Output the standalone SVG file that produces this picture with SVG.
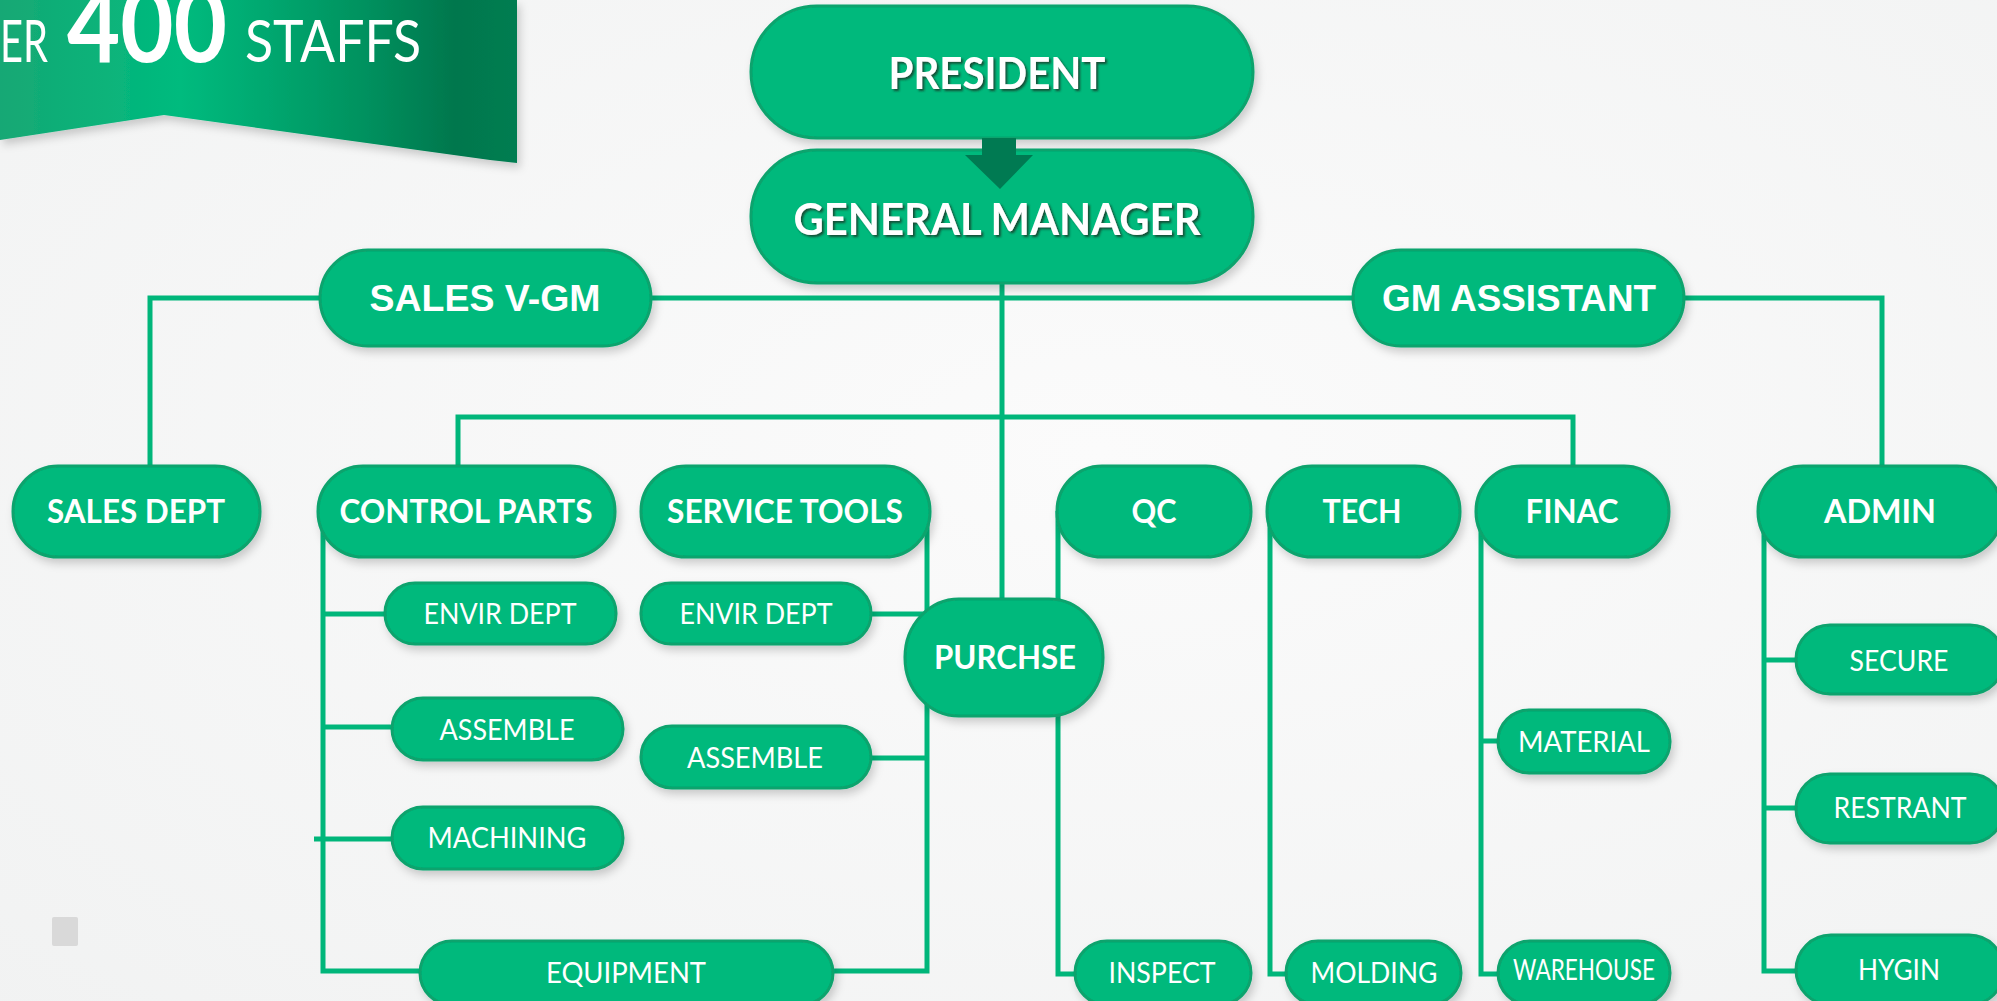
<svg xmlns="http://www.w3.org/2000/svg" width="1997" height="1001" viewBox="0 0 1997 1001">
<defs>
<radialGradient id="bg" cx="0.55" cy="0.45" r="0.8">
<stop offset="0" stop-color="#fbfbfb"/>
<stop offset="1" stop-color="#f1f2f2"/>
</radialGradient>
<linearGradient id="rib" x1="0" y1="0" x2="1" y2="0">
<stop offset="0" stop-color="#16a874"/>
<stop offset="0.35" stop-color="#00bb7e"/>
<stop offset="0.7" stop-color="#00925f"/>
<stop offset="0.88" stop-color="#00774d"/>
<stop offset="1" stop-color="#007d51"/>
</linearGradient>
<filter id="sh" x="-20%" y="-30%" width="140%" height="170%">
<feDropShadow dx="3" dy="5" stdDeviation="4" flood-color="#000" flood-opacity="0.18"/>
</filter>
<filter id="tsh" x="-10%" y="-30%" width="120%" height="160%">
<feDropShadow dx="2" dy="2" stdDeviation="1" flood-color="#143d2a" flood-opacity="0.85"/>
</filter>
<style>
.pill{fill:#00b97c;stroke:#0aa36d;stroke-width:3;filter:url(#sh)}
.conn{stroke:#00b67a;stroke-width:5;fill:none}
.bt{font-family:Lato,"Liberation Sans",sans-serif;fill:#fff}
.t1{font-family:Lato,"Liberation Sans",sans-serif;font-weight:700;font-size:44px;fill:#fff;text-anchor:middle;filter:url(#tsh)}
.t2{font-family:"Liberation Sans Narrow","Liberation Sans",sans-serif;font-weight:700;font-size:36px;fill:#fff;text-anchor:middle}
.t3{font-family:Lato,"Liberation Sans",sans-serif;font-weight:700;font-size:32px;fill:#fff;text-anchor:middle}
.t4{font-family:Lato,"Liberation Sans",sans-serif;font-weight:400;font-size:28px;fill:#fff;text-anchor:middle}
</style>
</defs>
<rect x="0" y="0" width="1997" height="1001" fill="url(#bg)"/>
<rect x="52" y="917" width="26" height="29" rx="2" fill="#d9d9d9"/>

<g id="banner">
<polygon points="0,0 517,0 517,163 490,160 164,115 0,140" fill="url(#rib)" filter="url(#sh)"/>
<text class="bt" x="0" y="62" font-size="58" textLength="48" lengthAdjust="spacingAndGlyphs">ER</text>
<text class="bt" x="67" y="62" font-weight="700" font-size="104" textLength="160" lengthAdjust="spacingAndGlyphs">400</text>
<text class="bt" x="245" y="62" font-size="58" textLength="176" lengthAdjust="spacingAndGlyphs">STAFFS</text>
</g>

<g id="connectors">
<path class="conn" d="M1002 283V599"/>
<path class="conn" d="M150 466V298H1882V466"/>
<path class="conn" d="M458 466V417H1573V466"/>
<path class="conn" d="M323 511V971H420M323 614H385M323 727H392M314 839H392"/>
<path class="conn" d="M927 511V971H833M871 614H927M871 758H927"/>
<path class="conn" d="M1058 511V974H1075"/>
<path class="conn" d="M1270 511V974H1286"/>
<path class="conn" d="M1481 511V974H1498M1481 741H1498"/>
<path class="conn" d="M1764 511V971H1796M1764 660H1796M1764 808H1796"/>
</g>

<g id="president"><rect class="pill" x="751" y="6" width="502" height="132" rx="66"/><text class="t1" x="997" y="89" textLength="217" lengthAdjust="spacingAndGlyphs">PRESIDENT</text></g>
<g id="general-manager"><rect class="pill" x="751" y="150" width="502" height="133" rx="66"/><text class="t1" x="997" y="235" textLength="407" lengthAdjust="spacingAndGlyphs">GENERAL MANAGER</text></g>

<g id="connectors-arrow">
<path d="M982 138H1016V155H1033L1000 189L965 155H982Z" fill="#007a52"/>
</g>

<g id="sales-vgm"><rect class="pill" x="320" y="250" width="331" height="96" rx="48"/><text class="t2" x="485" y="311" textLength="231" lengthAdjust="spacingAndGlyphs">SALES V-GM</text></g>
<g id="gm-assistant"><rect class="pill" x="1353" y="250" width="331" height="96" rx="48"/><text class="t2" x="1519" y="311" textLength="274" lengthAdjust="spacingAndGlyphs">GM ASSISTANT</text></g>

<g id="sales-dept"><rect class="pill" x="13" y="466" width="247" height="91" rx="45"/><text class="t3" x="136" y="523" textLength="178" lengthAdjust="spacingAndGlyphs">SALES DEPT</text></g>
<g id="control-parts"><rect class="pill" x="318" y="466" width="297" height="91" rx="45"/><text class="t3" x="466" y="523" textLength="253" lengthAdjust="spacingAndGlyphs">CONTROL PARTS</text></g>
<g id="service-tools"><rect class="pill" x="641" y="466" width="289" height="91" rx="45"/><text class="t3" x="785" y="523" textLength="236" lengthAdjust="spacingAndGlyphs">SERVICE TOOLS</text></g>
<g id="qc"><rect class="pill" x="1057" y="466" width="194" height="91" rx="45"/><text class="t3" x="1154" y="523" textLength="45" lengthAdjust="spacingAndGlyphs">QC</text></g>
<g id="tech"><rect class="pill" x="1267" y="466" width="193" height="91" rx="45"/><text class="t3" x="1362" y="523" textLength="79" lengthAdjust="spacingAndGlyphs">TECH</text></g>
<g id="finac"><rect class="pill" x="1476" y="466" width="193" height="91" rx="45"/><text class="t3" x="1572" y="523" textLength="93" lengthAdjust="spacingAndGlyphs">FINAC</text></g>
<g id="admin"><rect class="pill" x="1758" y="466" width="244" height="91" rx="45"/><text class="t3" x="1880" y="523" textLength="112" lengthAdjust="spacingAndGlyphs">ADMIN</text></g>

<g id="purchse"><rect class="pill" x="905" y="599" width="198" height="117" rx="54" ry="58"/><text class="t3" x="1005" y="669" textLength="142" lengthAdjust="spacingAndGlyphs">PURCHSE</text></g>

<g id="envir-dept-1"><rect class="pill" x="385" y="583" width="231" height="61" rx="30"/><text class="t4" x="500" y="624" textLength="153" lengthAdjust="spacingAndGlyphs">ENVIR DEPT</text></g>
<g id="assemble-1"><rect class="pill" x="392" y="698" width="231" height="62" rx="31"/><text class="t4" x="507" y="740" textLength="135" lengthAdjust="spacingAndGlyphs">ASSEMBLE</text></g>
<g id="machining"><rect class="pill" x="392" y="807" width="231" height="62" rx="31"/><text class="t4" x="507" y="848" textLength="159" lengthAdjust="spacingAndGlyphs">MACHINING</text></g>
<g id="equipment"><rect class="pill" x="420" y="941" width="413" height="64" rx="32"/><text class="t4" x="626" y="983" textLength="160" lengthAdjust="spacingAndGlyphs">EQUIPMENT</text></g>
<g id="envir-dept-2"><rect class="pill" x="641" y="583" width="230" height="61" rx="30"/><text class="t4" x="756" y="624" textLength="153" lengthAdjust="spacingAndGlyphs">ENVIR DEPT</text></g>
<g id="assemble-2"><rect class="pill" x="641" y="726" width="230" height="62" rx="31"/><text class="t4" x="755" y="768" textLength="136" lengthAdjust="spacingAndGlyphs">ASSEMBLE</text></g>

<g id="inspect"><rect class="pill" x="1075" y="941" width="176" height="64" rx="32"/><text class="t4" x="1162" y="983" textLength="107" lengthAdjust="spacingAndGlyphs">INSPECT</text></g>
<g id="molding"><rect class="pill" x="1286" y="941" width="175" height="64" rx="32"/><text class="t4" x="1374" y="983" textLength="127" lengthAdjust="spacingAndGlyphs">MOLDING</text></g>
<g id="material"><rect class="pill" x="1498" y="710" width="172" height="63" rx="31"/><text class="t4" x="1584" y="752" textLength="132" lengthAdjust="spacingAndGlyphs">MATERIAL</text></g>
<g id="warehouse"><rect class="pill" x="1498" y="941" width="172" height="64" rx="32"/><text class="t4" x="1584" y="980" font-size="23" textLength="142" lengthAdjust="spacingAndGlyphs">WAREHOUSE</text></g>

<g id="secure"><rect class="pill" x="1796" y="625" width="208" height="69" rx="34"/><text class="t4" x="1899" y="671" textLength="99" lengthAdjust="spacingAndGlyphs">SECURE</text></g>
<g id="restrant"><rect class="pill" x="1796" y="774" width="208" height="69" rx="34"/><text class="t4" x="1900" y="818" textLength="133" lengthAdjust="spacingAndGlyphs">RESTRANT</text></g>
<g id="hygin"><rect class="pill" x="1796" y="935" width="208" height="70" rx="35"/><text class="t4" x="1899" y="980" textLength="82" lengthAdjust="spacingAndGlyphs">HYGIN</text></g>
</svg>
